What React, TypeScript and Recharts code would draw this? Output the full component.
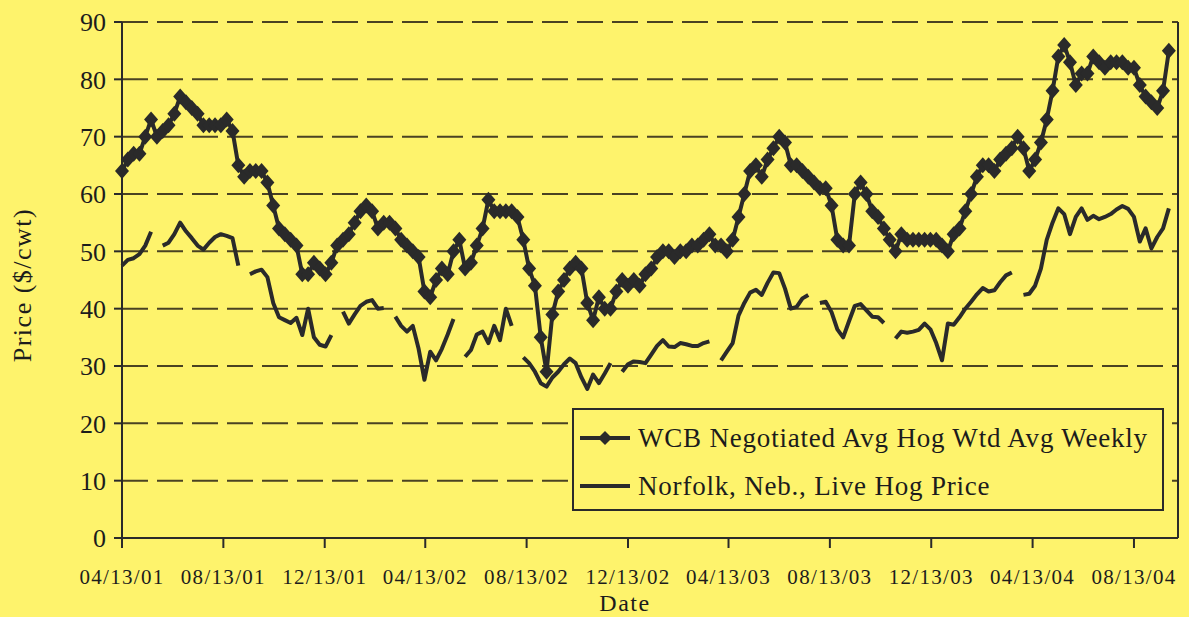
import React from 'react';
import { LineChart, Line, XAxis, YAxis, CartesianGrid, Legend } from 'recharts';

const BG = '#FEF36C';
const INK = '#2a2a2a';
const GRID = '#4a4222';
const FONT = '"Liberation Serif", "Times New Roman", serif';

// Weekly prices starting 04/13/01 ($/cwt)
const wcbValues: number[] = [
  64, 66, 67, 67, 70, 73, 70, 71, 72, 74,
  77, 76, 75, 74, 72, 72, 72, 72, 73, 71,
  65, 63, 64, 64, 64, 62, 58, 54, 53, 52,
  51, 46, 46, 48, 47, 46, 48, 51, 52, 53,
  55, 57, 58, 57, 54, 55, 55, 54, 52, 51,
  50, 49, 43, 42, 45, 47, 46, 50, 52, 47,
  48, 51, 54, 59, 57, 57, 57, 57, 56, 52,
  47, 44, 35, 29, 39, 43, 45, 47, 48, 47,
  41, 38, 42, 40, 40, 43, 45, 44, 45, 44,
  46, 47, 49, 50, 50, 49, 50, 50, 51, 51,
  52, 53, 51, 51, 50, 52, 56, 60, 64, 65,
  63, 66, 68, 70, 69, 65, 65, 64, 63, 62,
  61, 61, 58, 52, 51, 51, 60, 62, 60, 57,
  56, 54, 52, 50, 53, 52, 52, 52, 52, 52,
  52, 51, 50, 53, 54, 57, 60, 63, 65, 65,
  64, 66, 67, 68, 70, 68, 64, 66, 69, 73,
  78, 84, 86, 83, 79, 81, 81, 84, 83, 82,
  83, 83, 83, 82, 82, 79, 77, 76, 75, 78, 85,
];

const norfolkValues: (number | null)[] = [
  47.5, 48.5, 48.8, 49.5, 51, 53.4, null, 51, 51.5, 53,
  55, 53.5, 52.3, 51, 50.3, 51.5, 52.5, 53, 52.7, 52.3,
  47.5, null, 46, 46.5, 46.8, 45.5, 41, 38.5, 38, 37.5,
  38.4, 35.4, 40, 35, 33.7, 33.4, 35.4, null, 39.5, 37.4,
  39, 40.5, 41.2, 41.5, 40, 40.1, null, 38.6, 37, 36,
  37, 33, 27.6, 32.5, 31, 33, 35.5, 38.2, null, 31.6,
  32.8, 35.5, 36, 34, 37, 34.5, 40, 37, null, 31.5,
  30.5, 29, 27, 26.4, 28, 29, 30.3, 31.3, 30.5, 28,
  26, 28.5, 27, 28.7, 30.5, null, 29, 30.3, 30.8, 30.7,
  30.5, 32, 33.5, 34.5, 33.4, 33.3, 34, 33.8, 33.5, 33.5,
  34, 34.3, null, 31, 32.5, 34, 38.8, 41, 42.8, 43.3,
  42.4, 44.5, 46.3, 46.2, 43.5, 40, 40.3, 41.8, 42.4, null,
  41, 41.2, 39.4, 36.4, 35, 37.8, 40.5, 40.8, 39.7, 38.6,
  38.5, 37.5, null, 34.8, 36, 35.8, 36, 36.3, 37.4, 36.4,
  34, 31, 37.4, 37.2, 38.5, 40, 41.2, 42.5, 43.6, 43,
  43.2, 44.6, 45.8, 46.3, null, 42.4, 42.6, 44, 47, 52,
  55, 57.5, 56.5, 53, 56, 57.5, 55.5, 56.2, 55.6, 56,
  56.5, 57.3, 57.9, 57.4, 56, 51.7, 54, 50.5, 52.5, 54, 57.5,
];

const seriesNames = ['WCB Negotiated Avg Hog Wtd Avg Weekly', 'Norfolk, Neb., Live Hog Price'];
const tickLabels = ['04/13/01', '08/13/01', '12/13/01', '04/13/02', '08/13/02', '12/13/02', '04/13/03', '08/13/03', '12/13/03', '04/13/04', '08/13/04'];
const yTicks = [0, 10, 20, 30, 40, 50, 60, 70, 80, 90];

const START = Date.UTC(2001, 3, 13);
const DAY_MS = 86400000;
const dayOf = (label: string) => {
  const [m, d, y] = label.split('/').map(Number);
  return Math.round((Date.UTC(2000 + y, m - 1, d) - START) / DAY_MS);
};
const tickDays = tickLabels.map(dayOf);
const labelByDay: Record<number, string> = {};
tickDays.forEach((d, i) => { labelByDay[d] = tickLabels[i]; });

const data = wcbValues.map((v, i) => ({ day: i * 7, wcb: v, norfolk: norfolkValues[i] }));

const Diamond = (props: any) => {
  const { cx, cy, index } = props;
  if (cx == null || cy == null) return <g key={index} />;
  const rx = 7, ry = 8;
  return (
    <polygon key={index}
      points={`${cx},${cy - ry} ${cx + rx},${cy} ${cx},${cy + ry} ${cx - rx},${cy}`}
      fill={INK} stroke="none" />
  );
};

const renderLegend = () => (
  <div style={{
    width: 592, height: 103, boxSizing: 'border-box', border: `2px solid ${INK}`,
    background: BG, paddingTop: 4, fontFamily: FONT, color: '#1c1c1c',
  }}>
    {seriesNames.map((name, i) => (
      <div key={name} style={{ display: 'flex', alignItems: 'center', height: 48 }}>
        <svg width={50} height={20} style={{ marginLeft: 6, marginRight: 8, flex: 'none' }}>
          <line x1={0} y1={10} x2={50} y2={10} stroke={INK} strokeWidth={4} />
          {i === 0 && <polygon points="25,3 32,10 25,17 18,10" fill={INK} />}
        </svg>
        <span style={{ fontSize: 27, letterSpacing: 0.8, whiteSpace: 'nowrap' }}>{name}</span>
      </div>
    ))}
  </div>
);

export default function App() {
  return (
    <div style={{ position: 'absolute', left: 0, top: 0, width: 1189, height: 617, background: BG, overflow: 'hidden' }}>
      <LineChart width={1189} height={617} data={data} margin={{ top: 22, right: 0, bottom: 0, left: 22 }}>
        <CartesianGrid yAxisId="left" vertical={false} stroke={GRID} strokeWidth={2} strokeDasharray="26 9" />
        <XAxis
          dataKey="day" type="number" domain={[0, 1271]} ticks={tickDays} interval={0}
          tickFormatter={(d: number) => labelByDay[d] ?? ''}
          height={79} tickSize={10} tickMargin={21}
          axisLine={{ stroke: INK, strokeWidth: 2 }} tickLine={{ stroke: INK, strokeWidth: 2 }}
          tick={{ fill: '#1c1c1c', fontSize: 21, fontFamily: FONT, letterSpacing: 1.3 }}
          label={{
            content: () => (
              <text x={625} y={611} textAnchor="middle" fontSize={24} fontFamily={FONT} fill="#1c1c1c" letterSpacing={1.5}>Date</text>
            ),
          }}
        />
        <YAxis
          yAxisId="left" domain={[0, 90]} ticks={yTicks} interval={0} width={100}
          tickSize={8} tickMargin={8}
          axisLine={{ stroke: INK, strokeWidth: 2 }} tickLine={{ stroke: INK, strokeWidth: 2 }}
          tick={{ fill: '#1c1c1c', fontSize: 26, fontFamily: FONT }}
          label={{
            content: () => (
              <text x={22} y={285} transform="rotate(-90 22 285)" textAnchor="middle" dominantBaseline="central"
                fontSize={26} fontFamily={FONT} fill="#1c1c1c" letterSpacing={1.5}>Price ($/cwt)</text>
            ),
          }}
        />
        <YAxis
          yAxisId="right" orientation="right" domain={[0, 90]} ticks={yTicks} interval={0} width={11}
          tick={false} tickSize={7}
          axisLine={{ stroke: INK, strokeWidth: 2 }} tickLine={{ stroke: INK, strokeWidth: 2 }}
        />
        <Legend
          content={renderLegend} layout="vertical" align="center" verticalAlign="middle"
          wrapperStyle={{ left: 572, top: 408, width: 592, height: 103 }}
        />
        <Line yAxisId="left" dataKey="norfolk" name={seriesNames[1]} stroke={INK} strokeWidth={4}
          dot={false} isAnimationActive={false} connectNulls={false} strokeLinejoin="round" />
        <Line yAxisId="left" dataKey="wcb" name={seriesNames[0]} stroke={INK} strokeWidth={4}
          dot={(p: any) => <Diamond {...p} key={p.index} />} activeDot={false}
          isAnimationActive={false} strokeLinejoin="round" />
      </LineChart>
    </div>
  );
}
